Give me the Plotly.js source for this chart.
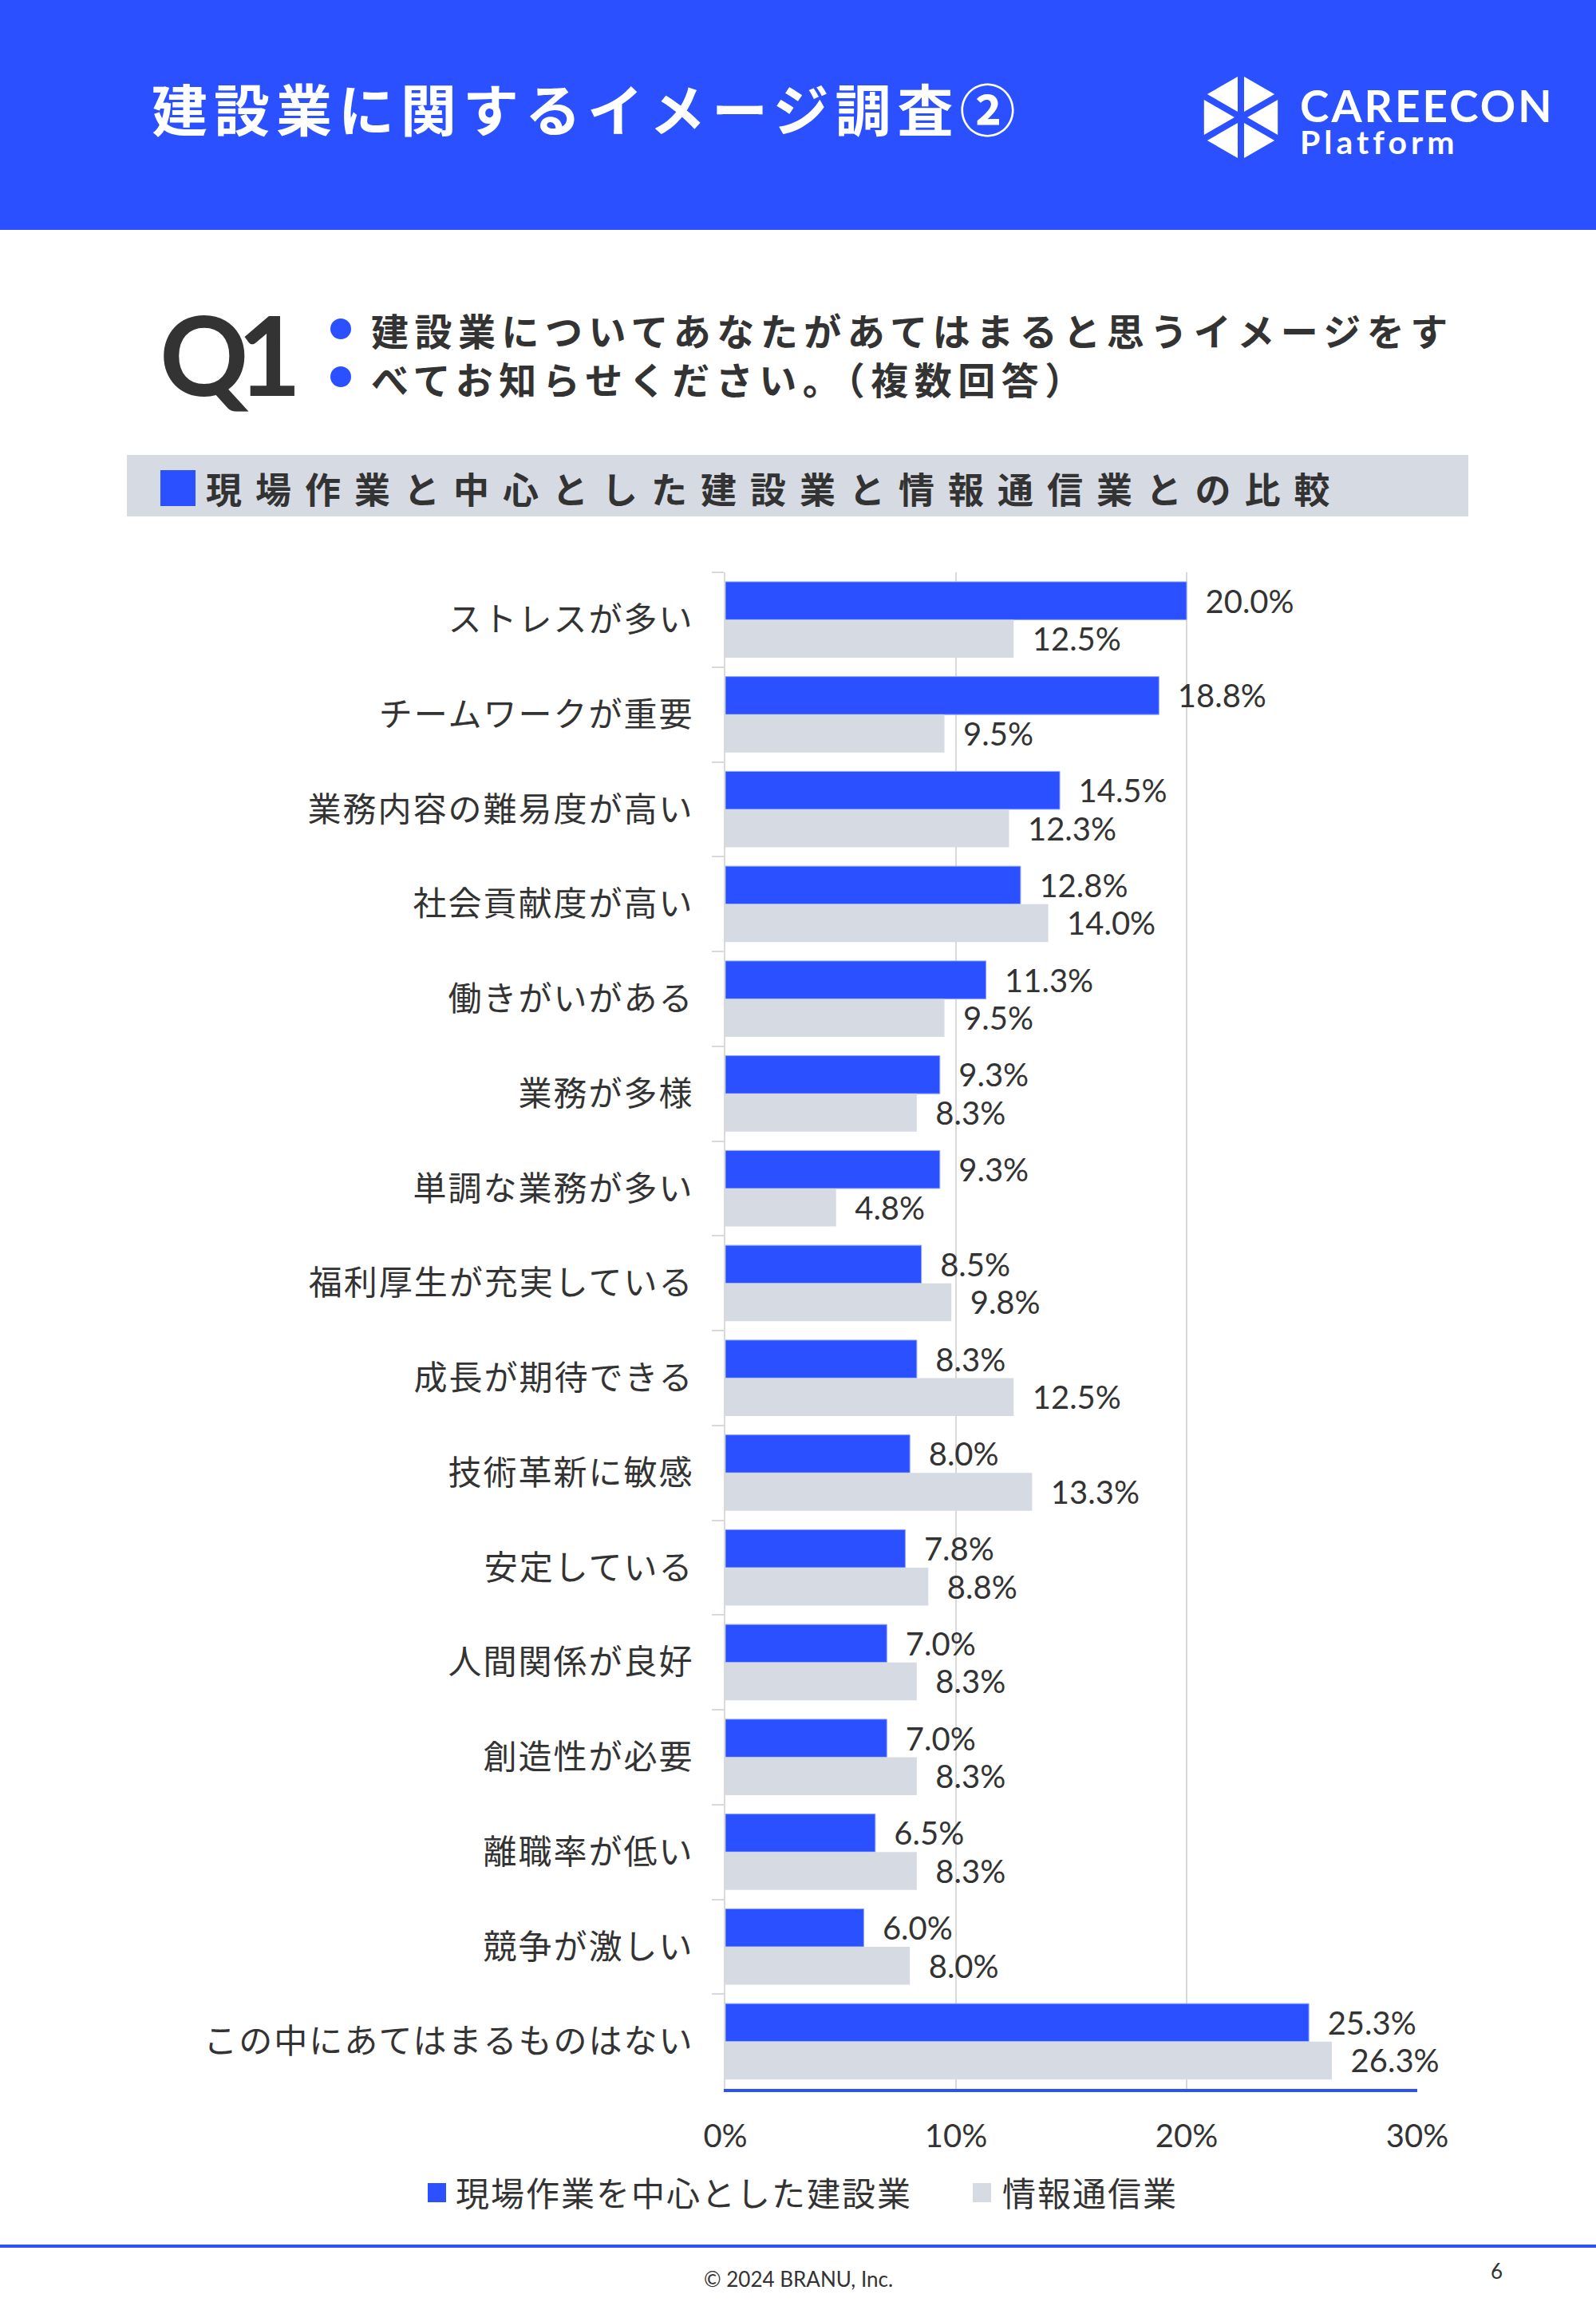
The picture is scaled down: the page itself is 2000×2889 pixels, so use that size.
<!DOCTYPE html>
<html>
<head>
<meta charset="utf-8">
<script src="https://cdn.plot.ly/plotly-3.0.1.min.js"></script>
<style>
html,body{margin:0;padding:0;background:#fff;}
#chart{width:2000px;height:2889px;}
</style>
</head>
<body>
<div id="chart"></div>
<script>
// ---- data ----
const categories = [
  "ストレスが多い",
  "チームワークが重要",
  "業務内容の難易度が高い",
  "社会貢献度が高い",
  "働きがいがある",
  "業務が多様",
  "単調な業務が多い",
  "福利厚生が充実している",
  "成長が期待できる",
  "技術革新に敏感",
  "安定している",
  "人間関係が良好",
  "創造性が必要",
  "離職率が低い",
  "競争が激しい",
  "この中にあてはまるものはない"
];
const constructionValues = [20.0, 18.8, 14.5, 12.8, 11.3, 9.3, 9.3, 8.5, 8.3, 8.0, 7.8, 7.0, 7.0, 6.5, 6.0, 25.3];
const ictValues = [12.5, 9.5, 12.3, 14.0, 9.5, 8.3, 4.8, 9.8, 12.5, 13.3, 8.8, 8.3, 8.3, 8.3, 8.0, 26.3];
const seriesNames = ["現場作業を中心とした建設業", "情報通信業"];
const xTickVals = [0, 10, 20, 30];
const xTickText = ["0%", "10%", "20%", "30%"];

const pageTitle = "建設業に関するイメージ調査②";
const questionLabel = "Q1";
const questionLines = ["建設業についてあなたがあてはまると思うイメージをす", "べてお知らせください。（複数回答）"];
const sectionTitle = "現場作業と中心とした建設業と情報通信業との比較";
const brandLines = ["CAREECON", "Platform"];
const copyright = "© 2024 BRANU, Inc.";
const pageNumber = "6";

// ---- style ----
const BLUE = "#2A50FF";
const GRAY = "#D6DBE3";
const TXT = "#333333";
const JP = "'Noto Sans CJK JP', 'Noto Sans', sans-serif";
const NUM = "Lato, 'Noto Sans CJK JP', sans-serif";

const W = 2000, H = 2889;
const L = 909, R = 1776, T = 717, B = 2617;
const fx = X => (X - L) / (R - L);
const fy = Y => (B - Y) / (B - T);

const fmt = v => "\u00a0\u00a0" + v.toFixed(1) + "%";

const traces = [
  {
    type: "bar", orientation: "h", name: seriesNames[0],
    y: categories, x: constructionValues,
    text: constructionValues.map(fmt), textposition: "outside",
    texttemplate: "%{text}", hoverinfo: "skip",
    constraintext: "none", cliponaxis: false,
    textfont: {family: NUM, size: 40, color: TXT},
    marker: {color: BLUE, line: {color: "#8FA5FF", width: 1}}
  },
  {
    type: "bar", orientation: "h", name: seriesNames[1],
    y: categories, x: ictValues,
    text: ictValues.map(fmt), textposition: "outside",
    texttemplate: "%{text}", hoverinfo: "skip",
    constraintext: "none", cliponaxis: false,
    textfont: {family: NUM, size: 40, color: TXT},
    marker: {color: GRAY, line: {width: 0}}
  }
];

const shapes = [];
const rectPx = (x0, y0, x1, y1, color, layer) => shapes.push({
  type: "rect", xref: "paper", yref: "paper",
  x0: fx(x0), x1: fx(x1), y0: fy(y1), y1: fy(y0),
  fillcolor: color, line: {width: 0}, layer: layer || "above"
});
// header band
rectPx(0, 0, W, 288, BLUE, "below");
// question bullets
[412, 472].forEach(cy => shapes.push({
  type: "circle", xref: "paper", yref: "paper",
  x0: fx(427 - 13), x1: fx(427 + 13), y0: fy(cy + 13), y1: fy(cy - 13),
  fillcolor: BLUE, line: {width: 0}
}));
// section band
rectPx(159, 570, 1840, 647, GRAY, "below");
rectPx(201, 589, 245, 634, BLUE, "above");
// legend swatches
rectPx(536, 2735, 559, 2759, BLUE, "above");
rectPx(1219, 2735, 1242, 2759, GRAY, "above");
// footer line
shapes.push({type: "line", xref: "paper", yref: "paper",
  x0: fx(0), x1: fx(W), y0: fy(2814), y1: fy(2814),
  line: {color: BLUE, width: 4}});

// logo icon: hexagon of 6 triangles
(function () {
  const cx = 1555, cy = 147, rad = 58;
  const verts = [];
  for (let k = 0; k < 6; k++) {
    const a = (90 - 60 * k) * Math.PI / 180;
    verts.push([cx + rad * Math.cos(a), cy - rad * Math.sin(a)]);
  }
  for (let k = 0; k < 6; k++) {
    const p1 = verts[k], p2 = verts[(k + 1) % 6];
    const g = [(cx + p1[0] + p2[0]) / 3, (cy + p1[1] + p2[1]) / 3];
    const s = 0.76;
    const sh = p => [g[0] + (p[0] - g[0]) * s, g[1] + (p[1] - g[1]) * s];
    const a = sh([cx, cy]), b = sh(p1), c = sh(p2);
    const P = p => fx(p[0]).toFixed(5) + "," + fy(p[1]).toFixed(5);
    shapes.push({type: "path", xref: "paper", yref: "paper",
      path: "M" + P(a) + " L" + P(b) + " L" + P(c) + " Z",
      fillcolor: "#FFFFFF", line: {width: 0}});
  }
})();

const annotations = [];
const spacing = {};
const ann = (text, X, Y, size, color, opts) => {
  opts = opts || {};
  const a = Object.assign({
    text: text, xref: "paper", yref: "paper", x: fx(X), y: fy(Y),
    xanchor: "left", yanchor: "middle", align: "left", showarrow: false,
    font: {family: opts.family || JP, size: size, color: color, weight: opts.weight || 400}
  }, opts.extra || {});
  if (opts.ls !== undefined) spacing[annotations.length] = opts.ls;
  annotations.push(a);
};
ann('<span style="font-size:55px;letter-spacing:3px">' + brandLines[0] + '</span><br>' +
    '<span style="font-size:41px;letter-spacing:5px">' + brandLines[1] + '</span>',
    1627, 150, 31, "#FFFFFF", {family: NUM, weight: 700});
ann(questionLabel, 198, 442, 138, TXT, {family: NUM, weight: 700, ls: -14});
ann(questionLines.join("<br>"), 463, 443, 47, TXT, {weight: 700, ls: 7.5});
ann(sectionTitle, 256, 612, 45, TXT, {weight: 700, ls: 17});
ann(seriesNames[0], 569, 2745, 42, TXT, {ls: 2});
ann(seriesNames[1], 1254, 2745, 42, TXT, {ls: 2});
ann(copyright, 1000, 2855, 26, TXT, {family: NUM, extra: {xanchor: "center", align: "center"}});
ann(pageNumber, 1875, 2845, 26, TXT, {family: NUM, extra: {xanchor: "center", align: "center"}});

const layout = {
  width: W, height: H,
  margin: {l: L, r: W - R, t: T, b: H - B, pad: 0},
  paper_bgcolor: "#FFFFFF", plot_bgcolor: "#FFFFFF",
  showlegend: false,
  barmode: "group", bargap: 0.2, bargroupgap: 0,
  title: {
    text: pageTitle, xref: "container", yref: "container",
    x: 190 / W, xanchor: "left", y: 1 - 140 / H, yanchor: "middle",
    font: {family: JP, size: 70, color: "#FFFFFF", weight: 700}
  },
  xaxis: {
    range: [0, 30], tickvals: xTickVals, ticktext: xTickText,
    showgrid: true, gridcolor: "#D9D9D9", gridwidth: 2,
    zeroline: false, showline: true, linecolor: BLUE, linewidth: 4,
    ticks: "", ticklabelstandoff: 21,
    tickfont: {family: NUM, size: 40, color: TXT}, fixedrange: true
  },
  yaxis: {
    type: "category", autorange: "reversed",
    showgrid: false, zeroline: false,
    showline: true, linecolor: "#D9D9D9", linewidth: 2,
    ticks: "outside", tickson: "boundaries", ticklen: 15, tickwidth: 2, tickcolor: "#D9D9D9",
    ticklabelstandoff: 29,
    tickfont: {family: JP, size: 42, color: TXT}, fixedrange: true
  },
  shapes: shapes,
  annotations: annotations
};

Plotly.newPlot("chart", traces, layout, {displayModeBar: false, staticPlot: true}).then(gd => {
  Object.keys(spacing).forEach(i => {
    const t = gd.querySelector('g.annotation[data-index="' + i + '"] text.annotation-text');
    if (t) t.style.letterSpacing = spacing[i] + "px";
  });
  const tt = gd.querySelector('.gtitle');
  if (tt) tt.style.letterSpacing = "8px";
  gd.querySelectorAll('.ytick text').forEach(t => { t.style.letterSpacing = "2px"; });
});
</script>
</body>
</html>
